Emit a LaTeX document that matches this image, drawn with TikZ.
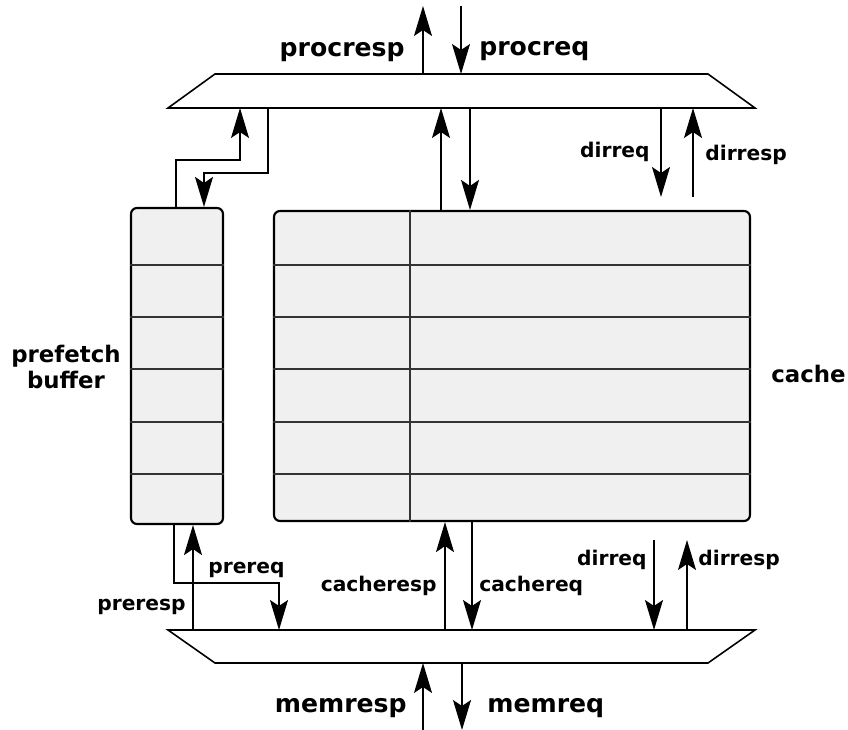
\documentclass[tikz,border=0pt]{standalone}
\usepackage{fontspec}
\setmainfont{DejaVu Sans}
\usetikzlibrary{arrows.meta}

\begin{document}
\begin{tikzpicture}[
    x=0.2mm, y=-0.2mm,
    arrow/.style={-{Stealth[length=6mm, width=3.6mm, inset=1.2mm]}, line width=0.85pt},
    bus/.style={draw, line width=0.9pt, fill=white},
    bufbox/.style={draw, fill=gray!12, rounded corners=1.2mm, line width=1.2pt, inner sep=0pt},
    rowline/.style={line width=0.6pt, black!80},
    biglabel/.style={inner sep=0pt, font=\fontsize{14.3}{16}\selectfont\bfseries},
    midlabel/.style={inner sep=0pt, font=\fontsize{13}{14.7}\selectfont\bfseries},
    smalllabel/.style={inner sep=0pt, font=\fontsize{11.5}{13}\selectfont\bfseries}
]
    \useasboundingbox (0,0) rectangle (848,730);

    % Buses
    \coordinate (topbusN) at (461,74);
    \coordinate (topbusS) at (461,108);
    \coordinate (botbusN) at (461,630);
    \coordinate (botbusS) at (461,663);
    \draw[bus] (215,0 |- topbusN) -- (708,0 |- topbusN) -- (755,0 |- topbusS) -- (168,0 |- topbusS) -- cycle;
    \draw[bus] (168,0 |- botbusN) -- (755,0 |- botbusN) -- (708,0 |- botbusS) -- (215,0 |- botbusS) -- cycle;

    % Prefetch buffer and cache
    \node[bufbox, minimum width=18.4mm, minimum height=63.2mm] (pbuf) at (177,366) {};
    \node[bufbox, minimum width=95.2mm, minimum height=62mm] (cache) at (512,366) {};
    \foreach \y in {265,317,369,422,474} {
        \draw[rowline] (pbuf.west |- 0,\y) -- (pbuf.east |- 0,\y);
        \draw[rowline] (cache.west |- 0,\y) -- (cache.east |- 0,\y);
    }
    \draw[rowline] (410,0 |- cache.north) -- (410,0 |- cache.south);

    % Free ends
    \coordinate (proc) at (442,6);
    \coordinate (mem) at (442,730);
    \coordinate (dirtop) at (677,197);
    \coordinate (dirbot) at (670,540);

    % Processor side
    \draw[arrow] (423,0 |- topbusN) -- (423,0 |- proc);
    \draw[arrow] (461,0 |- proc) -- (461,0 |- topbusN);
    \node[biglabel, anchor=base east] (procresp) at (405,57) {procresp};
    \node[biglabel, anchor=base west] (procreq) at (479,56) {procreq};

    % Top bus to prefetch buffer
    \draw[arrow] (176,0 |- pbuf.north) -- (176,160) -- (240,160) -- (240,0 |- topbusS);
    \draw[arrow] (268,0 |- topbusS) -- (268,173) -- (204,173) -- (204,0 |- pbuf.north);

    % Top bus to cache
    \draw[arrow] (441,0 |- cache.north) -- (441,0 |- topbusS);
    \draw[arrow] (470,0 |- topbusS) -- (470,0 |- cache.north);

    % Directory (top)
    \draw[arrow] (661,0 |- topbusS) -- (661,0 |- dirtop);
    \draw[arrow] (693,0 |- dirtop) -- (693,0 |- topbusS);
    \node[smalllabel, anchor=base east] (dirreqtop) at (650,158) {dirreq};
    \node[smalllabel, anchor=base west] (dirresptop) at (705,161) {dirresp};

    % Side labels
    \node[midlabel, align=center] (pbuflabel) at (66,367) {prefetch\\buffer};
    \node[midlabel, anchor=base west] (cachelabel) at (771,383) {cache};

    % Prefetch buffer to bottom bus
    \draw[arrow] (193,0 |- botbusN) -- (193,0 |- pbuf.south);
    \draw[arrow] (174,0 |- pbuf.south) -- (174,583) -- (279,583) -- (279,0 |- botbusN);
    \node[smalllabel, anchor=base east] (preresp) at (186,610) {preresp};
    \node[smalllabel, anchor=base west] (prereq) at (208,573) {prereq};

    % Cache to bottom bus
    \draw[arrow] (445,0 |- botbusN) -- (445,0 |- cache.south);
    \draw[arrow] (472,0 |- cache.south) -- (472,0 |- botbusN);
    \node[smalllabel, anchor=base east] (cacheresp) at (437,591) {cacheresp};
    \node[smalllabel, anchor=base west] (cachereq) at (479,591) {cachereq};

    % Directory (bottom)
    \draw[arrow] (654,0 |- dirbot) -- (654,0 |- botbusN);
    \draw[arrow] (687,0 |- botbusN) -- (687,0 |- dirbot);
    \node[smalllabel, anchor=base east] (dirreqbot) at (647,565) {dirreq};
    \node[smalllabel, anchor=base west] (dirrespbot) at (698,565) {dirresp};

    % Memory side
    \draw[arrow] (423,0 |- mem) -- (423,0 |- botbusS);
    \draw[arrow] (462,0 |- botbusS) -- (462,0 |- mem);
    \node[biglabel, anchor=base east] (memresp) at (407,712) {memresp};
    \node[biglabel, anchor=base west] (memreq) at (487,712) {memreq};
\end{tikzpicture}
\end{document}
